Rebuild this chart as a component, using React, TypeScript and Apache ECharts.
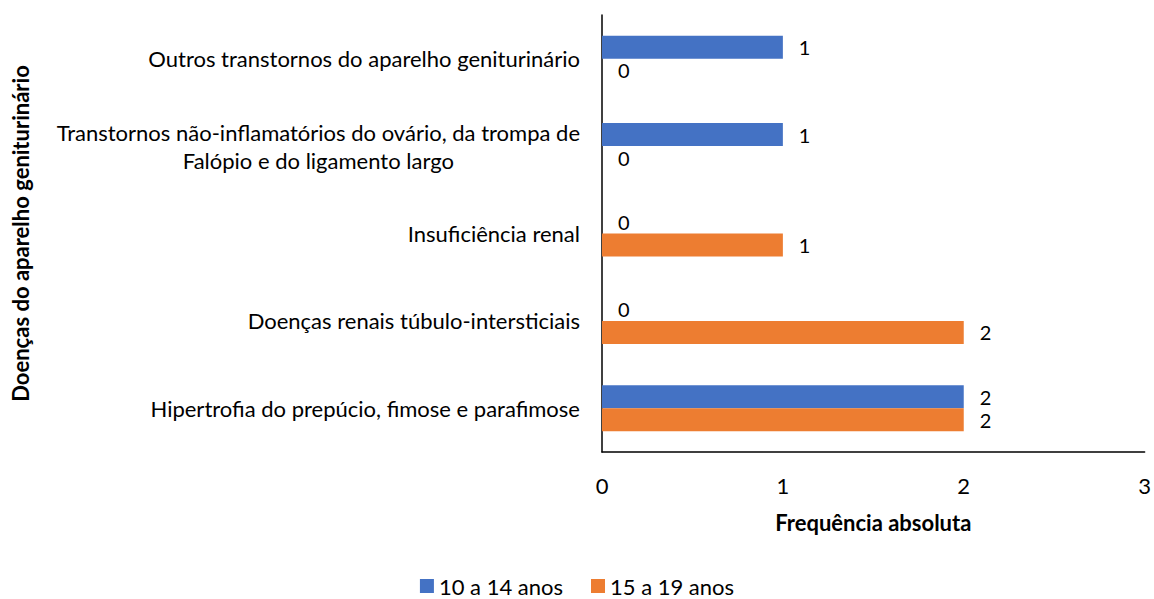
import React, { useEffect, useRef } from "react";
import * as echarts from "echarts";

const categories = [
  "Hipertrofia do prepúcio, fimose e parafimose",
  "Doenças renais túbulo-intersticiais",
  "Insuficiência renal",
  "Transtornos não-inflamatórios do ovário, da trompa de\nFalópio e do ligamento largo",
  "Outros transtornos do aparelho geniturinário",
];
const seriesNames = ["10 a 14 anos", "15 a 19 anos"];
const values10a14 = [2, 0, 0, 1, 1];
const values15a19 = [2, 2, 1, 0, 0];
const xTicks = { min: 0, max: 3, interval: 1 };

const FONT = "Lato";
const FS = 22;

function measure(text: string, weight = "normal"): number {
  const c = document.createElement("canvas").getContext("2d");
  if (!c) return text.length * FS * 0.5;
  c.font = `${weight} ${FS}px ${FONT}`;
  return c.measureText(text).width;
}

export default function App() {
  const ref = useRef<HTMLDivElement>(null);
  useEffect(() => {
    if (!ref.current) return;
    const chart = echarts.init(ref.current, null, { renderer: "svg" });
    const multiWidth = Math.max(
      ...categories
        .filter((c) => c.includes("\n"))
        .flatMap((c) => c.split("\n").map((l) => measure(l)))
    );
    const labelStyle = {
      show: true,
      position: "right",
      distance: 16,
      fontSize: 20,
      lineHeight: 20,
      color: "#000",
      fontFamily: FONT,
    };
    chart.setOption({
      animation: false,
      textStyle: { fontFamily: FONT },
      grid: { left: 602, right: 4, top: 15, bottom: 147, containLabel: false },
      legend: {
        data: seriesNames,
        top: 570,
        left: "center",
        icon: "rect",
        itemWidth: 14,
        itemHeight: 14,
        itemGap: 28,
        textStyle: { fontSize: FS, color: "#000", fontFamily: FONT },
      },
      xAxis: {
        type: "value",
        min: xTicks.min,
        max: xTicks.max,
        interval: xTicks.interval,
        name: "Frequência absoluta",
        nameLocation: "middle",
        nameGap: 59,
        nameTextStyle: { fontSize: FS, fontWeight: "bold", color: "#000", fontFamily: FONT },
        axisLine: { show: true, lineStyle: { color: "#000", width: 1.5 } },
        axisTick: { show: false },
        splitLine: { show: false },
        axisLabel: { fontSize: FS, color: "#000", margin: 22, fontFamily: FONT },
      },
      yAxis: {
        type: "category",
        data: categories,
        name: "Doenças do aparelho geniturinário",
        nameLocation: "middle",
        nameGap: 571,
        nameRotate: 90,
        nameTextStyle: { fontSize: FS, fontWeight: "bold", color: "#000", fontFamily: FONT },
        axisLine: { show: true, lineStyle: { color: "#000", width: 1.5 } },
        axisTick: { show: false },
        axisLabel: {
          fontSize: FS,
          color: "#000",
          margin: 22,
          fontFamily: FONT,
          formatter: (v: string) =>
            v.includes("\n")
              ? v
                  .split("\n")
                  .map((l) => `{c|${l}}`)
                  .join("\n")
              : v,
          rich: {
            c: {
              width: multiWidth,
              align: "center",
              fontSize: FS,
              color: "#000",
              fontFamily: FONT,
              lineHeight: 28,
            },
          },
        },
      },
      series: [
        {
          name: seriesNames[0],
          type: "bar",
          data: values10a14,
          barWidth: 23,
          barGap: "0%",
          itemStyle: { color: "#4472C4" },
          label: labelStyle,
        },
        {
          name: seriesNames[1],
          type: "bar",
          data: values15a19,
          barWidth: 23,
          barGap: "0%",
          itemStyle: { color: "#ED7D31" },
          label: labelStyle,
        },
      ],
    });
    return () => chart.dispose();
  }, []);
  return (
    <div
      ref={ref}
      style={{ position: "fixed", left: 0, top: 0, width: 1154, height: 599, background: "#fff" }}
    />
  );
}
